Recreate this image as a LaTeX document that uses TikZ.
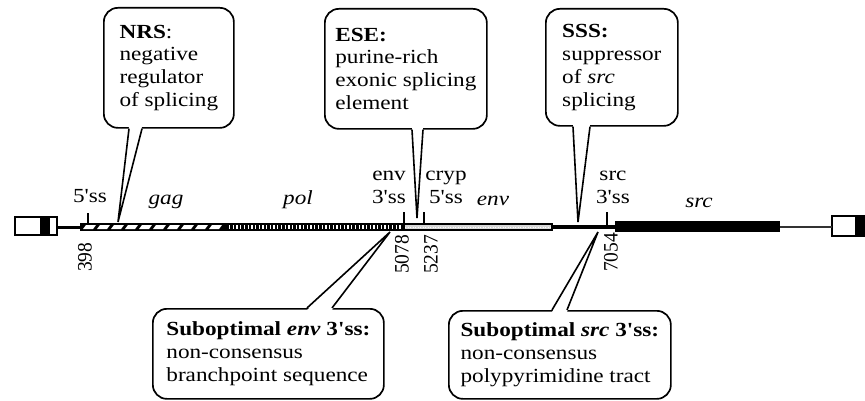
\documentclass[tikz,border=0pt]{standalone}
\usepackage{fontspec}
\setmainfont[FakeStretch=1.16, Ligatures=TeXOff]{Liberation Serif}
\newfontfamily\numfont[FakeStretch=0.95, Ligatures=TeXOff]{Liberation Serif}
\newcommand{\lblsize}{\fontsize{20pt}{22.8pt}\selectfont}

\begin{document}
\begin{tikzpicture}[x=1pt, y=1pt,
    callout/.style={draw, line width=1.7pt, rounded corners=14pt, fill=white, align=left, inner sep=0pt, anchor=north west, font=\lblsize},
    pointer/.style={line width=1.6pt},
    sitelbl/.style={align=center, inner sep=0pt, anchor=south, font=\lblsize},
    genelbl/.style={inner sep=0pt, anchor=base, font=\lblsize\itshape},
    poslbl/.style={rotate=90, anchor=west, inner sep=0pt, font=\numfont\fontsize{20.5pt}{22pt}\selectfont},
    sitetick/.style={line width=1.6pt},
    ltr/.style={draw, line width=2.5pt, fill=white}
  ]%
  \useasboundingbox (0,0) rectangle (865,400);
  %
  % === LTRs y esqueleto ===
  \draw[line width=3pt] (57,173) -- (80,173);
  \draw[ltr] (15,165) rectangle (57,183);
  \fill (40,165) rectangle (50,183);
  \draw[ltr] (832,164) rectangle (867,184);
  \fill (855,164) rectangle (867,184);
  %
  % gag / pol / env
  \fill (80,169) rectangle (553,177);
  \foreach \x in {83,97,...,209}
    \fill[white] (\x,171) -- ({\x+10},171) -- ({\x+13},175) -- ({\x+3},175) -- cycle;
  \draw[white, line width=4pt, dash pattern=on 1.3pt off 2.4pt] (229,173) -- (402,173);
  \fill[gray!30] (405,171) rectangle (551,175);
  \draw[white, line width=1pt, dash pattern=on 1pt off 1.5pt] (405,173) -- (551,173);
  %
  % src
  \draw[line width=4.5pt] (553,173) -- (615,173);
  \fill (615,168) rectangle (780,179);
  \draw[line width=2pt, black!80] (780,173) -- (832,173);
  %
  % sitios de splicing
  \draw[sitetick] (88,177) -- (88,187);
  \draw[sitetick] (404,177) -- (404,188);
  \draw[sitetick] (424,177) -- (424,188);
  \draw[sitetick] (607,175) -- (607,188);
  %
  \node[sitelbl] (ss5) at (90,197) {5'ss};
  \node[genelbl] (gag) at (166,196) {gag};
  \node[genelbl] (pol) at (298,196) {pol};
  \node[sitelbl] (env3) at (389,196) {env\\3'ss};
  \node[sitelbl] (cryp5) at (446,196) {cryp\\5'ss};
  \node[genelbl] (envg) at (493,195) {env};
  \node[sitelbl] (src3) at (613,196) {src\\3'ss};
  \node[genelbl] (srcg) at (699,193) {src};
  %
  \node[poslbl] (p398) at (85,128) {398};
  \node[poslbl] (p5078) at (402,126) {5078};
  \node[poslbl] (p5237) at (431,126) {5237};
  \node[poslbl] (p7054) at (611,128) {7054};
  %
  % === Globos (arriba) ===
  \node[callout, minimum width=130pt, minimum height=120pt] (nrs) at (103,393) {\textbf{NRS}:\\negative\\regulator\\of splicing};
  \coordinate (nrstip) at (118,178);
  \fill[white] ([xshift=26pt,yshift=2pt]nrs.south west) -- (nrstip) -- ([xshift=39pt,yshift=2pt]nrs.south west) -- cycle;
  \draw[pointer] ([xshift=26pt]nrs.south west) -- (nrstip) -- ([xshift=39pt]nrs.south west);
  %
  \node[callout, minimum width=162pt, minimum height=120pt] (ese) at (324,392) {\textbf{ESE:}\\purine-rich\\exonic splicing\\element};
  \coordinate (esetip) at (417,182);
  \fill[white] ([xshift=88pt,yshift=2pt]ese.south west) -- (esetip) -- ([xshift=99pt,yshift=2pt]ese.south west) -- cycle;
  \draw[pointer] ([xshift=88pt]ese.south west) -- (esetip) -- ([xshift=99pt]ese.south west);
  %
  \node[callout, minimum width=132pt, minimum height=117pt] (sss) at (545,392) {\textbf{SSS:}\\suppressor\\of \textit{src}\\splicing};
  \coordinate (ssstip) at (578,178);
  \fill[white] ([xshift=28pt,yshift=2pt]sss.south west) -- (ssstip) -- ([xshift=45pt,yshift=2pt]sss.south west) -- cycle;
  \draw[pointer] ([xshift=28pt]sss.south west) -- (ssstip) -- ([xshift=45pt]sss.south west);
  %
  % === Globos (abajo) ===
  \node[callout, minimum width=231pt, minimum height=90pt] (envss) at (152,92) {\textbf{Suboptimal \textit{env} 3'ss:}\\non-consensus\\branchpoint sequence};
  \coordinate (envtip) at (390,168);
  \fill[white] ([xshift=155pt,yshift=-2pt]envss.north west) -- (envtip) -- ([xshift=180pt,yshift=-2pt]envss.north west) -- cycle;
  \draw[pointer] ([xshift=155pt]envss.north west) -- (envtip) -- ([xshift=180pt]envss.north west);
  %
  \node[callout, minimum width=222pt, minimum height=88pt] (srcss) at (448,90) {\textbf{Suboptimal \textit{src} 3'ss:}\\non-consensus\\polypyrimidine tract};
  \coordinate (srctip) at (598,168);
  \fill[white] ([xshift=104pt,yshift=-2pt]srcss.north west) -- (srctip) -- ([xshift=119pt,yshift=-2pt]srcss.north west) -- cycle;
  \draw[pointer] ([xshift=104pt]srcss.north west) -- (srctip) -- ([xshift=119pt]srcss.north west);
\end{tikzpicture}
\end{document}
